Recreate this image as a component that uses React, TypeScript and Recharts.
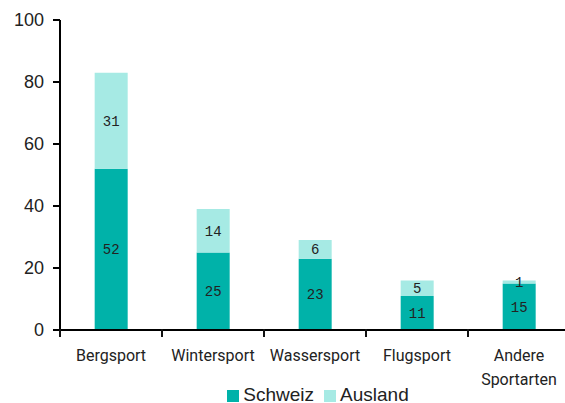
import { BarChart, Bar, XAxis, YAxis, Legend, LabelList } from "recharts";

const categories = ["Bergsport", "Wintersport", "Wassersport", "Flugsport", "Andere Sportarten"];
const schweiz = [52, 25, 23, 11, 15];
const ausland = [31, 14, 6, 5, 1];
const yTicks = [0, 20, 40, 60, 80, 100];

const data = categories.map((name, i) => ({
  name,
  schweiz: schweiz[i],
  ausland: ausland[i],
}));

const W = 575;
const H = 417;
const MARGIN = { top: 20, right: 5, left: 0, bottom: 0 };
const Y_AXIS_W = 60;

const DARK = "#00b2a9";
const LIGHT = "#a6eae4";
const AXIS_FONT = "Roboto, 'Liberation Sans', sans-serif";
const LABEL_FONT = "'Liberation Mono', 'DejaVu Sans Mono', monospace";

// half of one category band, so tick marks sit between the bars
const HALF_BAND = (W - MARGIN.left - MARGIN.right - Y_AXIS_W) / categories.length / 2;

const CategoryTick = (props: any) => {
  const { x, y, payload, index } = props;
  const words = String(payload.value).split(" ");
  return (
    <g>
      {index === 0 && <rect x={x - HALF_BAND - 1} y={y - 9} width={2} height={8} fill="#111" />}
      <rect x={x + HALF_BAND - 1} y={y - 9} width={2} height={8} fill="#111" />
      <text x={x} y={y} textAnchor="middle" fill="#222" fontSize={16} fontFamily={AXIS_FONT}>
        {words.map((w, i) => (
          <tspan key={i} x={x} dy={i === 0 ? 23 : 24}>
            {w}
          </tspan>
        ))}
      </text>
    </g>
  );
};

export default function App() {
  return (
    <div style={{ position: "absolute", left: 0, top: 0 }}>
      <BarChart width={W} height={H} data={data} margin={MARGIN} barCategoryGap="34%">
        <YAxis
          domain={[0, 100]}
          ticks={yTicks}
          width={Y_AXIS_W}
          tickSize={7}
          tickMargin={9}
          axisLine={{ stroke: "#000", strokeWidth: 2 }}
          tickLine={{ stroke: "#000", strokeWidth: 2 }}
          tick={{ fill: "#222", fontSize: 18, fontFamily: "'Liberation Sans', Arial, sans-serif" }}
        />
        <XAxis
          dataKey="name"
          height={57}
          interval={0}
          tickSize={0}
          tickMargin={8}
          axisLine={{ stroke: "#000", strokeWidth: 2 }}
          tickLine={false}
          tick={CategoryTick}
        />
        <Legend
          verticalAlign="bottom"
          iconType="square"
          iconSize={12}
          height={30}
          itemSorter={(item: any) => (item.dataKey === "schweiz" ? 0 : 1)}
          wrapperStyle={{
            fontSize: 19,
            fontFamily: "'Liberation Sans', Arial, sans-serif",
            paddingLeft: 38,
            top: 384,
          }}
          formatter={(value) => <span style={{ color: "#222" }}>{value}</span>}
        />
        <Bar dataKey="schweiz" name="Schweiz" stackId="s" fill={DARK} isAnimationActive={false}>
          <LabelList dataKey="schweiz" position="center" fill="#222" fontSize={14} fontFamily={LABEL_FONT} />
        </Bar>
        <Bar dataKey="ausland" name="Ausland" stackId="s" fill={LIGHT} isAnimationActive={false}>
          <LabelList dataKey="ausland" position="center" fill="#222" fontSize={14} fontFamily={LABEL_FONT} />
        </Bar>
      </BarChart>
    </div>
  );
}
